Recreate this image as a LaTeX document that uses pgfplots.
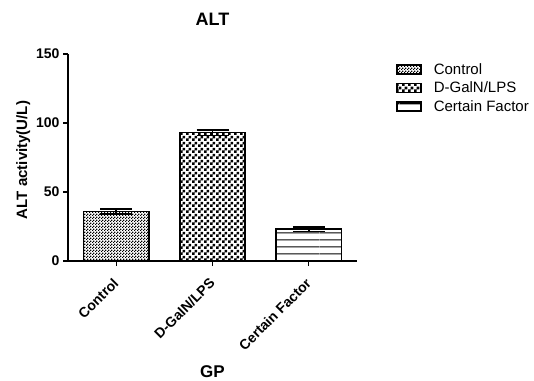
\documentclass[border=0pt]{standalone}
\usepackage{fontspec}
\setmainfont{Liberation Sans}
\usepackage{pgfplots}
\pgfplotsset{compat=1.18}
\usetikzlibrary{patterns,patterns.meta}

\pgfdeclarepatternformonly{finechecker}{\pgfpointorigin}{\pgfqpoint{2.6pt}{2.6pt}}{\pgfqpoint{2.6pt}{2.6pt}}{%
  \pgfpathrectangle{\pgfpointorigin}{\pgfqpoint{1.3pt}{1.3pt}}%
  \pgfpathrectangle{\pgfqpoint{1.3pt}{1.3pt}}{\pgfqpoint{1.3pt}{1.3pt}}%
  \pgfusepath{fill}}
\pgfdeclarepatternformonly{coarsechecker}{\pgfpointorigin}{\pgfqpoint{6pt}{6pt}}{\pgfqpoint{6pt}{6pt}}{%
  \pgfpathrectangle{\pgfpointorigin}{\pgfqpoint{3pt}{3pt}}%
  \pgfpathrectangle{\pgfqpoint{3pt}{3pt}}{\pgfqpoint{3pt}{3pt}}%
  \pgfusepath{fill}}
\pgfdeclarepatternformonly{hlines}{\pgfpointorigin}{\pgfqpoint{80pt}{6.5pt}}{\pgfqpoint{80pt}{6.5pt}}{%
  \pgfpathrectangle{\pgfqpoint{0pt}{2.7pt}}{\pgfqpoint{80pt}{1.1pt}}%
  \pgfusepath{fill}}

\pgfplotsset{
  mylegend/.style={/pgfplots/legend image code/.code={%
    \draw[##1,line width=1.6pt] (0pt,-4.5pt) rectangle (24pt,4.5pt);}},
  mybar/.style={ybar, bar width=0.68, bar shift=0pt, draw=black, line width=1.6pt,
    mylegend,
    /pgfplots/error bars/y dir=both, /pgfplots/error bars/y explicit,
    /pgfplots/error bars/error bar style={line width=1.6pt, black},
    /pgfplots/error bars/error mark options={rotate=90, black, line width=1.6pt, mark size=16pt}},
}

\begin{document}
\begin{tikzpicture}
\path[use as bounding box] (-68pt,-119pt) rectangle (466pt,261pt);
\begin{axis}[
  at={(0pt,0pt)}, anchor=south west,
  scale only axis, width=289pt, height=207pt,
  xmin=-0.5, xmax=2.5, ymin=0, ymax=150,
  axis x line=bottom, axis y line=left,
  axis line style={-, line width=1.5pt},
  tick style={line width=1.3pt, black},
  tick align=outside, major tick length=5pt,
  xtick={0,1,2}, xticklabels={Control,D-GalN/LPS,Certain Factor},
  ytick={0,50,100,150},
  /pgf/number format/assume math mode=true,
  yticklabel style={font=\bfseries\fontsize{14}{14}\selectfont},
  xticklabel style={xshift=-4pt, yshift=-8pt, font=\bfseries\fontsize{14}{14}\selectfont, rotate=45, anchor=north east, inner sep=2pt},
  title={ALT},
  title style={font=\bfseries\fontsize{18}{18}\selectfont, at={(axis description cs:0.5,1)}, anchor=base, yshift=22pt},
  ylabel={ALT activity(U/L)},
  ylabel style={font=\bfseries\fontsize{15}{15}\selectfont, at={(axis description cs:-0.155,0.488)}, anchor=center},
  xlabel={GP},
  xlabel style={font=\bfseries\fontsize{17}{17}\selectfont, at={(axis description cs:0.5,-0.534)}, anchor=center},
  legend style={at={(axis description cs:1.135,0.965)}, anchor=north west, draw=none, fill=none,
    font=\fontsize{15}{15}\selectfont, row sep=2pt, inner sep=0pt,
    /tikz/every odd column/.append style={column sep=10pt}},
  legend cell align=left,
  clip=false,
]
\addplot[pattern=finechecker, mybar] coordinates {(0,36) +- (0,1.8)};
\addlegendentry{Control}
\addplot[pattern=coarsechecker, mybar] coordinates {(1,93) +- (0,2)};
\addlegendentry{D-GalN/LPS}
\addplot[pattern=hlines, mybar] coordinates {(2,23) +- (0,1.7)};
\addlegendentry{Certain Factor}
\end{axis}
\end{tikzpicture}
\end{document}
